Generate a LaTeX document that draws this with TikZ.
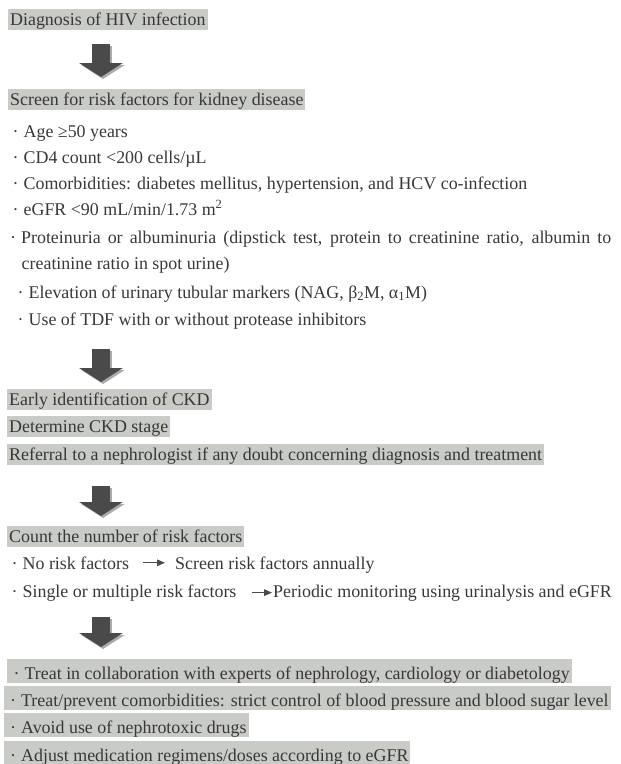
\documentclass[tikz,border=0pt]{standalone}
\usepackage{fontspec}
\setmainfont{Liberation Serif}
\usepackage{tikz}
\usetikzlibrary{arrows.meta}
\definecolor{boxgrey}{HTML}{C9CBC7}
\definecolor{inkgrey}{HTML}{383838}
\definecolor{arrowgrey}{HTML}{4A4A4A}
\definecolor{shadegrey}{HTML}{ABABAB}
\newcommand{\bul}{\textperiodcentered\hspace{5pt}}

\begin{document}
\begin{tikzpicture}[x=1pt,y=-1pt,font=\fontsize{17.9}{22}\selectfont,text=inkgrey,
  grey_box/.style={fill=boxgrey,anchor=base west,inner xsep=2pt,inner ysep=0pt,text height=16.5pt,text depth=4.5pt},
  list_box/.style={grey_box,text height=20pt,text depth=3.5pt},
  item_line/.style={anchor=base west,inner sep=0pt},
  big_arrow/.style={arrowgrey,line width=18pt,-{Triangle[width=43pt,length=14pt]}},
  small_arrow/.style={arrowgrey,line width=1.3pt,-{Triangle[width=6.5pt,length=8pt]}}]

\useasboundingbox (0,0) rectangle (621,764);

	\node[grey_box] (1) at (8,25) {Diagnosis of HIV infection};
	\node[grey_box] (2) at (8,105) {Screen for risk factors for kidney disease};
	\node[item_line] (3) at (12.5,137) {\bul Age ≥50 years};
	\node[item_line] (4) at (12.5,163) {\bul CD4 count <200 cells/µL};
	\node[item_line] (5) at (12.5,189) {\bul Comorbidities: diabetes mellitus, hypertension, and HCV co-infection};
	\node[item_line] (6) at (12.5,215) {\bul eGFR <90 mL/min/1.73 m\textsuperscript{2}};
	\node[item_line] (7) at (10,243) {\bul\makebox[590pt][s]{Proteinuria or albuminuria (dipstick test, protein to creatinine ratio, albumin to}};
	\node[item_line] (8) at (21.5,269) {creatinine ratio in spot urine)};
	\node[item_line] (9) at (17.5,298) {\bul Elevation of urinary tubular markers (NAG, β\textsubscript{2}M, α\textsubscript{1}M)};
	\node[item_line] (10) at (17.5,325) {\bul Use of TDF with or without protease inhibitors};

	\node[grey_box] (11) at (7,405) {Early identification of CKD};
	\node[grey_box] (12) at (7,432) {Determine CKD stage};
	\node[grey_box] (13) at (7,460) {Referral to a nephrologist if any doubt concerning diagnosis and treatment};

	\node[grey_box] (14) at (7,542) {Count the number of risk factors};
	\node[item_line] (15) at (11.5,569) {\bul No risk factors};
	\node[item_line] (16) at (175,569) {Screen risk factors annually};
	\node[item_line] (17) at (11.5,597) {\bul Single or multiple risk factors};
	\node[item_line,anchor=base east] (18) at (612,597) {Periodic monitoring using urinalysis and eGFR};

	\node[list_box] (19) at (7,679) {\hspace{4.5pt}\bul Treat in collaboration with experts of nephrology, cardiology or diabetology};
	\node[list_box] (20) at (3.5,706) {\hspace{4.5pt}\bul Treat/prevent comorbidities: strict control of blood pressure and blood sugar level};
	\node[list_box] (21) at (3.5,733) {\hspace{4.5pt}\bul Avoid use of nephrotoxic drugs};
	\node[list_box] (22) at (3.5,761) {\hspace{4.5pt}\bul Adjust medication regimens/doses according to eGFR};

	% block arrows between the steps
	\foreach \i/\t/\h in {1/44/77, 2/349/382, 3/486/516, 4/617/647} {
		\coordinate (a\i) at (101,\t);
		\coordinate (b\i) at (101,\h);
		\draw[big_arrow,shadegrey] ([shift={(2,2)}]a\i) -- ([shift={(2,2)}]b\i);
		\draw[big_arrow] (a\i) -- (b\i);
	}

	\draw[small_arrow,shorten <=14pt,shorten >=10pt] (15.east) -- (16.west |- 15.east);
	\draw[small_arrow,shorten <=15pt,shorten >=1pt] (17.east) -- (18.west |- 17.east);

\end{tikzpicture}
\end{document}
